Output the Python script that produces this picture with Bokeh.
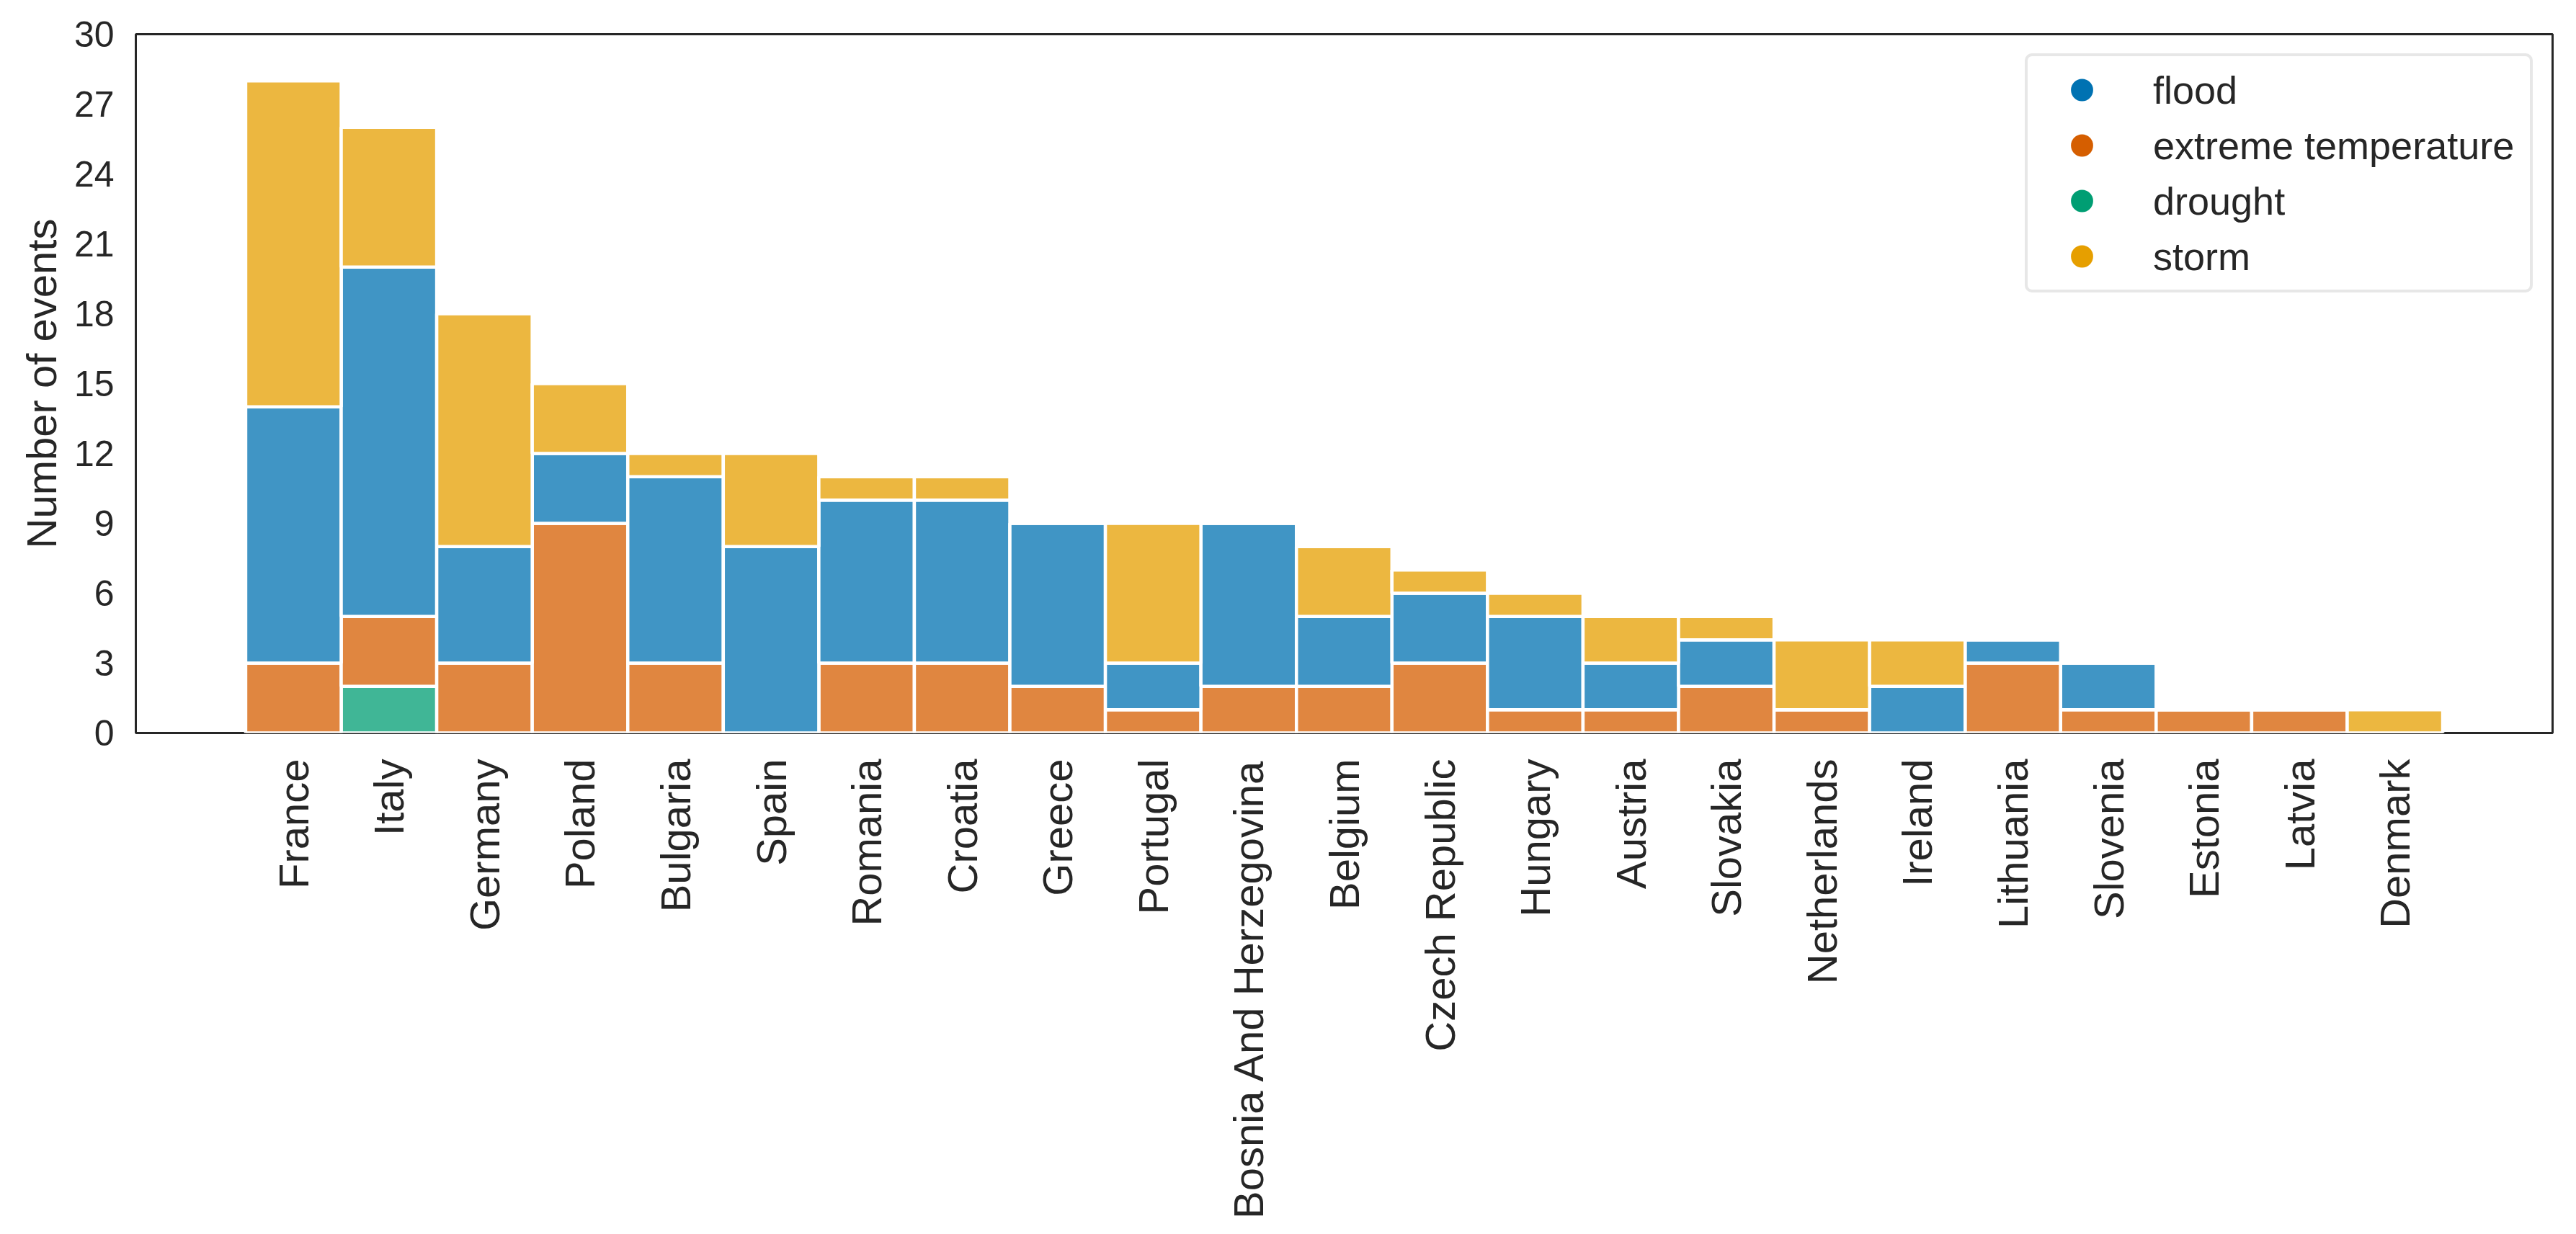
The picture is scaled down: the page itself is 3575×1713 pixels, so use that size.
import math
from bokeh.plotting import figure
from bokeh.models import ColumnDataSource, FactorRange, Range1d, FixedTicker, Legend, LegendItem
from bokeh.embed import file_html
from bokeh.resources import INLINE

countries = ["France", "Italy", "Germany", "Poland", "Bulgaria", "Spain", "Romania",
             "Croatia", "Greece", "Portugal", "Bosnia And Herzegovina", "Belgium",
             "Czech Republic", "Hungary", "Austria", "Slovakia", "Netherlands",
             "Ireland", "Lithuania", "Slovenia", "Estonia", "Latvia", "Denmark"]

drought = [0, 2, 0, 0, 0, 0, 0, 0, 0, 0, 0, 0, 0, 0, 0, 0, 0, 0, 0, 0, 0, 0, 0]
extreme_temperature = [3, 3, 3, 9, 3, 0, 3, 3, 2, 1, 2, 2, 3, 1, 1, 2, 1, 0, 3, 1, 1, 1, 0]
flood = [11, 15, 5, 3, 8, 8, 7, 7, 7, 2, 7, 3, 3, 4, 2, 2, 0, 2, 1, 2, 0, 0, 0]
storm = [14, 6, 10, 3, 1, 4, 1, 1, 0, 6, 0, 3, 1, 1, 2, 1, 3, 2, 0, 0, 0, 0, 1]

stack_order = ["drought", "extreme temperature", "flood", "storm"]
legend_order = ["flood", "extreme temperature", "drought", "storm"]
palette = {"flood": "#0072b2", "extreme temperature": "#d55e00",
           "drought": "#009e73", "storm": "#e69f00"}

y_ticks = [0, 3, 6, 9, 12, 15, 18, 21, 24, 27, 30]

src = ColumnDataSource(dict(country=countries, drought=drought,
                            **{"extreme temperature": extreme_temperature},
                            flood=flood, storm=storm))

FONT = "Liberation Sans"
TXT = "#262626"

p = figure(width=3559, height=1697, output_backend="svg", toolbar_location=None,
           x_range=FactorRange(factors=countries, range_padding=0.1,
                               range_padding_units="percent"),
           y_range=Range1d(0, 30),
           min_border_left=188, min_border_right=17, min_border_top=47,
           min_border_bottom=680)

p.background_fill_color = "white"
p.border_fill_color = "white"
p.outline_line_color = TXT
p.outline_line_width = 3
p.xgrid.grid_line_color = None
p.ygrid.grid_line_color = None

p.vbar_stack(stack_order, x="country", width=1.0, source=src,
             fill_color=[palette[s] for s in stack_order], fill_alpha=0.75,
             line_color="white", line_width=4.5)

# legend proxies (a single point far below the visible range)
items = []
for name in legend_order:
    r = p.scatter(x=[countries[0]], y=[-1000], marker="circle", size=30,
                  fill_color=palette[name], line_color=palette[name], line_width=0)
    items.append(LegendItem(label=name, renderers=[r]))

legend = Legend(items=items, location="top_right", margin=27, padding=8, spacing=0,
                glyph_width=134, glyph_height=77, label_standoff=32, label_width=515,
                label_text_font=FONT, label_text_font_size="54px", label_text_color=TXT,
                border_line_color="#d0d0d0", border_line_width=4,
                background_fill_color="white", background_fill_alpha=1.0)
if "border_radius" in Legend.properties():
    legend.border_radius = 10
p.add_layout(legend)

# axes
for ax in (p.xaxis[0], p.yaxis[0]):
    ax.axis_line_color = None
    ax.major_tick_line_color = None
    ax.minor_tick_line_color = None
    ax.major_tick_out = 0
    ax.major_tick_in = 0
    ax.minor_tick_out = 0
    ax.major_label_text_font = FONT
    ax.major_label_text_color = TXT
    ax.axis_label_text_font = FONT
    ax.axis_label_text_color = TXT
    ax.axis_label_text_font_style = "normal"

p.xaxis.major_label_orientation = math.pi / 2
p.xaxis.major_label_text_font_size = "58px"
p.xaxis.major_label_standoff = 36

p.yaxis.ticker = FixedTicker(ticks=y_ticks)
p.yaxis.major_label_text_font_size = "50px"
p.yaxis.major_label_standoff = 30
p.yaxis.axis_label = "Number of events"
p.yaxis.axis_label_text_font_size = "58px"
p.yaxis.axis_label_standoff = 10

open("out.html", "w").write(file_html(p, INLINE))
